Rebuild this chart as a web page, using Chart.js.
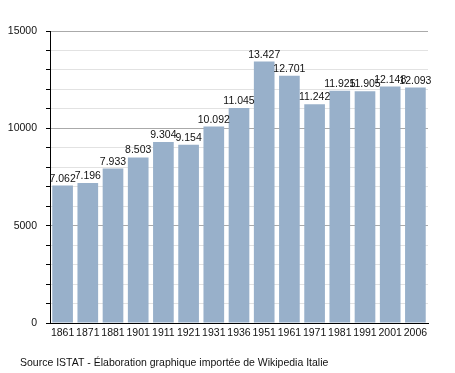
<!DOCTYPE html>
<html>
<head>
<meta charset="utf-8">
<script src="https://cdn.jsdelivr.net/npm/chart.js@4"></script>
<style>
  body { margin: 0; background: #fff; }
  canvas { display: block; }
</style>
</head>
<body>
<canvas id="popChart" width="455" height="373"></canvas>
<script>
var years = ["1861", "1871", "1881", "1901", "1911", "1921", "1931", "1936", "1951", "1961", "1971", "1981", "1991", "2001", "2006"];
var population = [7062, 7196, 7933, 8503, 9304, 9154, 10092, 11045, 13427, 12701, 11242, 11925, 11905, 12148, 12093];
var sourceText = "Source ISTAT - \u00c9laboration graphique import\u00e9e de Wikipedia Italie";

var FONT = "'Liberation Sans', Arial, sans-serif";

function fmt(v) {
    return String(v).replace(/\B(?=(\d{3})+(?!\d))/g, ".");
}

var valueLabels = {
    id: "valueLabels",
    afterDatasetsDraw: function (chart) {
        var ctx = chart.ctx;
        var meta = chart.getDatasetMeta(0);
        ctx.save();
        ctx.font = "10.5px " + FONT;
        ctx.fillStyle = "#111";
        ctx.textAlign = "center";
        ctx.textBaseline = "alphabetic";
        meta.data.forEach(function (bar, i) {
            ctx.fillText(fmt(population[i]), bar.x, bar.y - 4);
        });
        ctx.restore();
    },
    afterDraw: function (chart) {
        var ctx = chart.ctx;
        ctx.save();
        ctx.font = "10.5px " + FONT;
        ctx.fillStyle = "#111";
        ctx.textAlign = "left";
        ctx.textBaseline = "alphabetic";
        ctx.fillText(sourceText, 20, 366);
        ctx.restore();
    }
};

new Chart(document.getElementById("popChart").getContext("2d"), {
    type: "bar",
    data: {
        labels: years,
        datasets: [{
            data: population,
            backgroundColor: "#98b0ca",
            borderWidth: 0,
            categoryPercentage: 0.82,
            barPercentage: 1.0
        }]
    },
    options: {
        responsive: false,
        animation: false,
        layout: { padding: { top: 31, right: 27, left: 0, bottom: 0 } },
        plugins: {
            legend: { display: false },
            tooltip: { enabled: false }
        },
        scales: {
            x: {
                afterFit: function (scale) { scale.height = 50; },
                grid: { display: false, drawTicks: false },
                border: { display: true, color: "#000", width: 1 },
                ticks: {
                    font: { size: 10.5, family: FONT },
                    color: "#111",
                    padding: 4,
                    maxRotation: 0,
                    autoSkip: false
                }
            },
            y: {
                min: 0,
                max: 15000,
                afterFit: function (scale) { scale.width = 50; },
                border: { display: true, color: "#000", width: 1 },
                grid: {
                    color: function (c) {
                        if (c.tick && c.tick.value % 5000 === 0) return "#aaaaaa";
                        return "#e2e2e2";
                    },
                    tickColor: "#000",
                    tickLength: 4,
                    drawTicks: true
                },
                ticks: {
                    stepSize: 1000,
                    autoSkip: false,
                    font: { size: 10.5, family: FONT },
                    color: "#111",
                    padding: 9,
                    callback: function (v) { return v % 5000 === 0 ? String(v) : ""; }
                }
            }
        }
    },
    plugins: [valueLabels]
});
</script>
</body>
</html>
